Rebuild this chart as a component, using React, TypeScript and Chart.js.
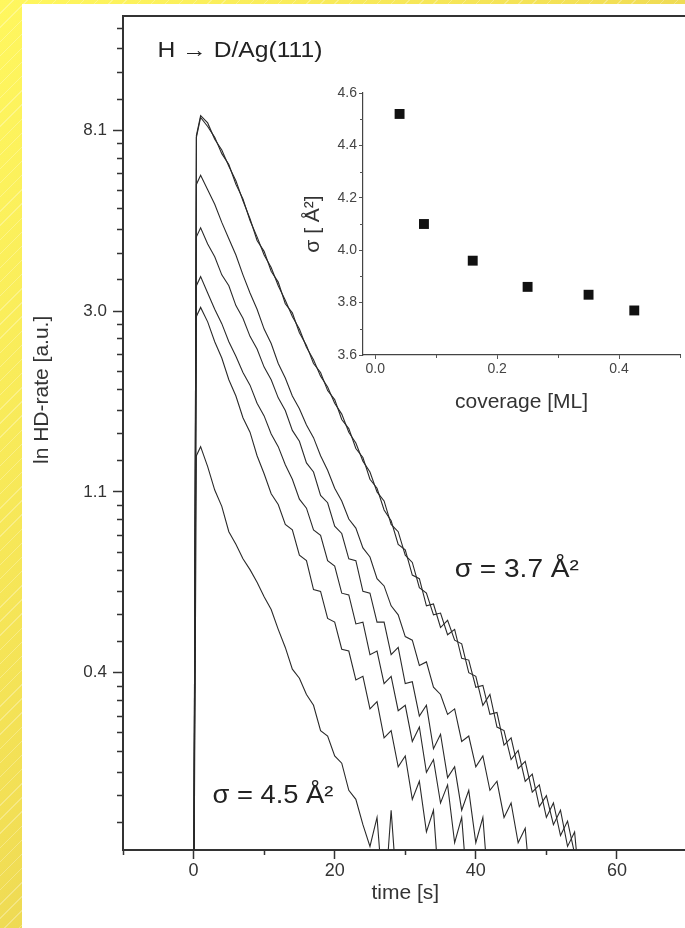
import React, { useEffect, useRef } from "react";
import { Chart, registerables } from "chart.js";

Chart.register(...registerables);

// ---------- data ----------
// time [s] sample positions shared by all decay curves
const TIME = [0, 0.4, 1, 2, 3, 4, 5, 6, 7, 8, 9, 10, 11, 12, 13, 14, 15, 16, 17, 18, 19, 20, 21, 22, 23, 24, 25, 26, 27, 28, 29, 30, 31, 32, 33, 34, 35, 36, 37, 38, 39, 40, 41, 42, 43, 44, 45, 46, 47, 48, 49, 50, 51, 52, 53, 54, 55];

// ln HD-rate values (ln units); values below the axis minimum leave the plot
const CURVE_A1 = [-2.5, 2.07, 2.18, 2.14, 2.05, 1.99, 1.90, 1.82, 1.71, 1.61, 1.49, 1.43, 1.32, 1.26, 1.14, 1.09, 0.98, 0.91, 0.81, 0.76, 0.66, 0.61, 0.50, 0.45, 0.34, 0.29, 0.17, 0.12, 0.00, -0.06, -0.19, -0.22, -0.36, -0.38, -0.53, -0.52, -0.65, -0.61, -0.72, -0.74, -0.90, -0.92, -1.08, -1.02, -1.20, -1.22, -1.38, -1.33, -1.50, -1.46, -1.64, -1.58, -1.74, -1.66, -1.86, -1.78, -2.2];
const CURVE_A2 = [-2.5, 2.06, 2.17, 2.12, 2.06, 1.97, 1.91, 1.80, 1.72, 1.60, 1.51, 1.41, 1.34, 1.24, 1.16, 1.07, 1.00, 0.90, 0.83, 0.74, 0.68, 0.59, 0.53, 0.43, 0.37, 0.27, 0.21, 0.10, 0.05, -0.08, -0.12, -0.25, -0.29, -0.43, -0.46, -0.58, -0.57, -0.69, -0.66, -0.82, -0.83, -0.98, -0.97, -1.13, -1.12, -1.30, -1.26, -1.43, -1.39, -1.56, -1.52, -1.70, -1.62, -1.80, -1.72, -1.90, -2.2];
const CURVE_B = [-2.5, 1.80, 1.85, 1.77, 1.69, 1.59, 1.50, 1.41, 1.30, 1.20, 1.11, 1.00, 0.92, 0.81, 0.73, 0.63, 0.56, 0.47, 0.40, 0.30, 0.22, 0.12, 0.05, -0.05, -0.10, -0.21, -0.26, -0.38, -0.42, -0.53, -0.58, -0.70, -0.72, -0.86, -0.84, -0.98, -1.02, -1.13, -1.10, -1.28, -1.25, -1.42, -1.36, -1.55, -1.50, -1.70, -1.62, -1.84, -1.76, -2.2];
const CURVE_C = [-2.5, 1.51, 1.56, 1.47, 1.40, 1.30, 1.24, 1.13, 1.06, 0.96, 0.89, 0.79, 0.72, 0.62, 0.55, 0.44, 0.38, 0.26, 0.21, 0.08, 0.04, -0.09, -0.13, -0.27, -0.28, -0.45, -0.46, -0.62, -0.62, -0.80, -0.76, -0.96, -0.95, -1.14, -1.08, -1.32, -1.24, -1.48, -1.42, -1.66, -1.55, -1.84, -1.70, -2.2];
const CURVE_D = [-2.5, 1.24, 1.29, 1.20, 1.11, 1.03, 0.93, 0.85, 0.76, 0.69, 0.59, 0.52, 0.42, 0.35, 0.25, 0.17, 0.06, 0.01, -0.11, -0.14, -0.28, -0.31, -0.46, -0.47, -0.63, -0.62, -0.80, -0.78, -0.96, -0.92, -1.11, -1.08, -1.28, -1.20, -1.45, -1.38, -1.62, -1.52, -1.84, -1.70, -2.2];
const CURVE_E = [-2.5, 1.07, 1.12, 1.04, 0.93, 0.84, 0.72, 0.63, 0.51, 0.43, 0.30, 0.20, 0.09, 0.03, -0.08, -0.11, -0.25, -0.28, -0.44, -0.45, -0.60, -0.62, -0.77, -0.78, -0.94, -0.92, -1.10, -1.06, -1.26, -1.22, -1.42, -1.36, -1.60, -1.50, -1.78, -1.66, -2.2];
const CURVE_F = [-2.5, 0.30, 0.35, 0.24, 0.11, 0.02, -0.12, -0.19, -0.27, -0.33, -0.40, -0.48, -0.55, -0.66, -0.76, -0.88, -0.93, -1.02, -1.08, -1.22, -1.25, -1.36, -1.40, -1.55, -1.60, -1.74, -1.86, -1.70, -2.2, -1.66, -2.2];

const CURVES = [CURVE_A1, CURVE_A2, CURVE_B, CURVE_C, CURVE_D, CURVE_E, CURVE_F];

// main axes
const X_TICKS = [0, 20, 40, 60];
const X_MINOR = [-10, 10, 30, 50, 70];
const Y_TICK_LN = [-0.9, 0.1, 1.1, 2.1];
const Y_TICK_LABELS = ["0.4", "1.1", "3.0", "8.1"];

// inset: sigma vs coverage
const COVERAGE = [0.04, 0.08, 0.16, 0.25, 0.35, 0.425];
const SIGMA = [4.52, 4.10, 3.96, 3.86, 3.83, 3.77];
const INSET_X_TICKS = [0, 0.2, 0.4];
const INSET_X_MINOR = [0.1, 0.3, 0.5];
const INSET_Y_TICKS = [3.6, 3.8, 4.0, 4.2, 4.4, 4.6];
const INSET_Y_MINOR = [3.7, 3.9, 4.1, 4.3, 4.5];

// texts
const Y_TITLE = "ln HD-rate [a.u.]";
const X_TITLE = "time [s]";
const NOTE_TITLE = "H \u2192 D/Ag(111)";
const NOTE_LOW = "\u03C3 = 3.7 \u00C5\u00B2";
const NOTE_HIGH = "\u03C3 = 4.5 \u00C5\u00B2";
const INSET_X_TITLE = "coverage [ML]";
const INSET_Y_TITLE = "\u03C3 [ \u00C5\u00B2]";

const FONT = "'Liberation Sans', Arial, Helvetica, sans-serif";

// minor ticks between log-style major ticks (linear in value space, 9 divisions)
function buildMinorLn(): number[] {
  const ext = [Y_TICK_LN[0] - 1, ...Y_TICK_LN, Y_TICK_LN[Y_TICK_LN.length - 1] + 1];
  const out: number[] = [];
  for (let i = 0; i < ext.length - 1; i++) {
    const a = Math.exp(ext[i]);
    const b = Math.exp(ext[i + 1]);
    for (let k = 1; k < 9; k++) out.push(Math.log(a + ((b - a) * k) / 9));
  }
  return out;
}

const minorTicksPlugin = {
  id: "minorTicks",
  afterDraw(chart: any, _args: any, opts: any) {
    const { ctx } = chart;
    for (const spec of opts.specs || []) {
      const scale = chart.scales[spec.axis];
      ctx.save();
      ctx.strokeStyle = spec.color;
      ctx.lineWidth = spec.width;
      ctx.beginPath();
      for (const v of spec.values) {
        if (v < scale.min - 1e-9 || v > scale.max + 1e-9) continue;
        const p = Math.round(scale.getPixelForValue(v)) + 0.5;
        if (scale.isHorizontal()) {
          const y = scale.top;
          ctx.moveTo(p, y);
          ctx.lineTo(p, y + spec.length);
        } else {
          const x = scale.right;
          ctx.moveTo(x, p);
          ctx.lineTo(x - spec.length, p);
        }
      }
      ctx.stroke();
      ctx.restore();
    }
  },
};

// text notes placed at data coordinates of the main plot
const notesPlugin = {
  id: "notes",
  afterDatasetsDraw(chart: any, _args: any, opts: any) {
    const { ctx } = chart;
    const xs = chart.scales.x;
    const ys = chart.scales.y;
    for (const n of opts.items || []) {
      const x = n.px !== undefined ? n.px : xs.getPixelForValue(n.x);
      const y = ys.getPixelForValue(n.y);
      ctx.save();
      ctx.font = n.font;
      ctx.fillStyle = n.color;
      ctx.textAlign = n.align || "left";
      ctx.textBaseline = "middle";
      ctx.translate(x, y);
      if (n.rotate) ctx.rotate(n.rotate);
      ctx.scale(n.stretch || 1, 1);
      ctx.fillText(n.text, 0, 0);
      ctx.restore();
    }
  },
};

export default function App() {
  const mainRef = useRef<HTMLCanvasElement>(null);
  const insetRef = useRef<HTMLCanvasElement>(null);

  useEffect(() => {
    document.body.style.margin = "0";
    Chart.defaults.font.family = FONT;
    const minorLn = buildMinorLn();

    const main = new Chart(mainRef.current as HTMLCanvasElement, {
      type: "line",
      data: {
        datasets: CURVES.map((vals, idx) => ({
          label: "curve " + (idx + 1),
          data: vals.map((v, i) => ({ x: TIME[i], y: v })),
          borderColor: "#2a2a2a",
          borderWidth: 1.1,
          pointRadius: 0,
          tension: 0,
          fill: false,
        })),
      },
      options: {
        animation: false,
        responsive: false,
        maintainAspectRatio: false,
        layout: { padding: { left: 0, top: 16, right: 72.5, bottom: 0 } },
        plugins: {
          legend: { display: false },
          tooltip: { enabled: false },
          minorTicks: {
            specs: [
              { axis: "x", values: X_MINOR, length: 5, width: 1.5, color: "#333" },
              { axis: "y", values: minorLn, length: 6, width: 1.5, color: "#333" },
            ],
          },
          notes: {
            items: [
              { text: Y_TITLE, px: 42, y: 0.664, font: `21px ${FONT}`, color: "#333", align: "center", rotate: -Math.PI / 2 },
              { text: NOTE_TITLE, x: -5.1, y: 2.54, font: `22px ${FONT}`, color: "#222", stretch: 1.12 },
              { text: NOTE_LOW, x: 37.0, y: -0.33, font: `26px ${FONT}`, color: "#222", stretch: 1.08 },
              { text: NOTE_HIGH, x: 2.7, y: -1.58, font: `26px ${FONT}`, color: "#222", stretch: 1.05 },
            ],
          },
        } as any,
        scales: {
          x: {
            type: "linear",
            position: "bottom",
            min: -10,
            max: 70,
            afterBuildTicks: (s: any) => {
              s.ticks = X_TICKS.map((v) => ({ value: v }));
            },
            afterFit: (s: any) => {
              s.height = 78;
            },
            ticks: { color: "#333", font: { size: 18 }, padding: 1, maxRotation: 0, autoSkip: false, callback: (v: any) => String(v) },
            grid: { drawOnChartArea: false, tickLength: 9, tickWidth: 1.5, tickColor: "#333" },
            border: { color: "#333", width: 2 },
            title: { display: true, text: X_TITLE, color: "#333", font: { size: 21 }, padding: { top: 0, bottom: 22 } },
          },
          x2: {
            type: "linear",
            position: "top",
            min: -10,
            max: 70,
            ticks: { display: false },
            grid: { display: false },
            border: { display: true, color: "#333", width: 2 },
            afterFit: (s: any) => {
              s.height = 0;
            },
          },
          y: {
            type: "linear",
            position: "left",
            min: -1.88,
            max: 2.73,
            afterBuildTicks: (s: any) => {
              s.ticks = Y_TICK_LN.map((v) => ({ value: v }));
            },
            afterFit: (s: any) => {
              s.width = 123;
            },
            ticks: { color: "#333", font: { size: 17 }, padding: 6, autoSkip: false, callback: (_v: any, i: number) => Y_TICK_LABELS[i] },
            grid: { drawOnChartArea: false, tickLength: 10, tickWidth: 1.5, tickColor: "#333" },
            border: { color: "#333", width: 2 },
            title: { display: false, text: Y_TITLE },
          },
        },
      },
      plugins: [minorTicksPlugin, notesPlugin],
    } as any);

    const inset = new Chart(insetRef.current as HTMLCanvasElement, {
      type: "scatter",
      data: {
        datasets: [
          {
            label: "sigma",
            data: COVERAGE.map((c, i) => ({ x: c, y: SIGMA[i] })),
            pointStyle: "rect",
            pointRadius: 7,
            backgroundColor: "#111",
            borderWidth: 0,
            showLine: false,
          },
        ],
      },
      options: {
        animation: false,
        responsive: false,
        maintainAspectRatio: false,
        layout: { padding: { left: 0, top: 33, right: 10, bottom: 0 } },
        plugins: {
          legend: { display: false },
          tooltip: { enabled: false },
          minorTicks: {
            specs: [
              { axis: "x", values: INSET_X_MINOR, length: 3, width: 1, color: "#555" },
              { axis: "y", values: INSET_Y_MINOR, length: 3, width: 1, color: "#555" },
            ],
          },
        } as any,
        scales: {
          x: {
            type: "linear",
            min: -0.02,
            max: 0.5,
            afterBuildTicks: (s: any) => {
              s.ticks = INSET_X_TICKS.map((v) => ({ value: v }));
            },
            afterFit: (s: any) => {
              s.height = 85;
            },
            ticks: { color: "#444", font: { size: 14 }, padding: 2, maxRotation: 0, autoSkip: false, callback: (v: any) => Number(v).toFixed(1) },
            grid: { drawOnChartArea: false, tickLength: 4, tickWidth: 1, tickColor: "#555" },
            border: { color: "#444", width: 1.2 },
            title: { display: true, text: INSET_X_TITLE, color: "#333", font: { size: 21 }, padding: { top: 0, bottom: 25 } },
          },
          y: {
            type: "linear",
            min: 3.6,
            max: 4.6,
            afterBuildTicks: (s: any) => {
              s.ticks = INSET_Y_TICKS.map((v) => ({ value: v }));
            },
            afterFit: (s: any) => {
              s.width = 73;
            },
            ticks: { color: "#444", font: { size: 14 }, padding: 2, autoSkip: false, callback: (v: any) => Number(v).toFixed(1) },
            grid: { drawOnChartArea: false, tickLength: 4, tickWidth: 1, tickColor: "#555" },
            border: { color: "#444", width: 1.2 },
            title: { display: true, text: INSET_Y_TITLE, color: "#333", font: { size: 21 }, padding: { top: 11, bottom: 0 } },
          },
        },
      },
      plugins: [minorTicksPlugin],
    } as any);

    return () => {
      main.destroy();
      inset.destroy();
    };
  }, []);

  return (
    <div
      style={{
        position: "relative",
        width: 685,
        height: 928,
        overflow: "hidden",
        background:
          "repeating-linear-gradient(135deg, rgba(255,255,255,0) 0px, rgba(255,255,255,0) 9px, rgba(255,255,255,0.28) 9px, rgba(255,255,255,0.28) 10px), linear-gradient(to bottom right, #fff75e 0%, #f2df55 45%, #d0b44a 100%)",
      }}
    >
      <div style={{ position: "absolute", left: 22, top: 4, width: 663, height: 924, background: "#ffffff" }} />
      <canvas ref={mainRef} width={760} height={928} style={{ position: "absolute", left: 0, top: 0, width: 760, height: 928 }} />
      <canvas ref={insetRef} width={400} height={380} style={{ position: "absolute", left: 290, top: 60, width: 400, height: 380 }} />
    </div>
  );
}
